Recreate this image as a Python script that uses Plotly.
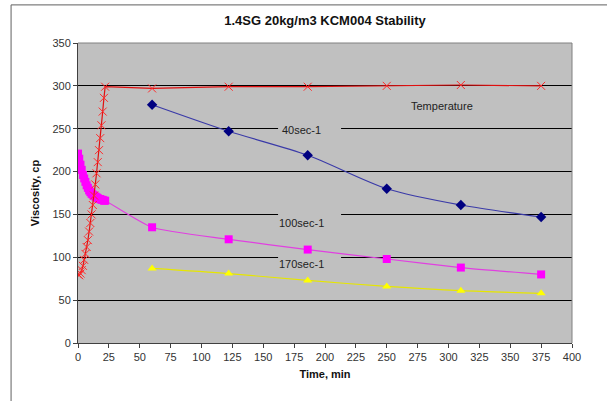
import plotly.graph_objects as go

# ---- data ----
t_early = [0, 1, 2, 3, 4, 5, 6, 7, 8, 9, 10, 11, 12, 13, 14, 15, 16, 17, 18, 19, 20, 21, 22]
temp_early = [80, 79, 81, 85, 90, 97, 104, 112, 120, 130, 140, 150, 161, 172, 185, 198, 211, 225, 239, 254, 270, 286, 299]
visc100_early = [221, 215, 208, 202, 196, 192, 188, 184, 181, 178, 176, 174, 173, 172, 171, 170, 169, 168, 168, 167, 167, 166, 166]

t_late = [60, 122, 186, 250, 310, 375]
visc40 = [278, 247, 219, 180, 161, 147]
visc100_late = [135, 121, 109, 98, 88, 80]
visc170 = [87, 81, 73, 66, 61, 58]
temp_late = [297, 299, 299, 300, 301, 300]

x_ticks = list(range(0, 401, 25))
y_ticks = list(range(0, 351, 50))

FONT = "Liberation Sans, Arial, sans-serif"
BG = "#C0C0C0"

fig = go.Figure()

fig.add_trace(go.Scatter(
    x=t_late, y=visc40, mode="lines+markers", name="40sec-1",
    line=dict(color="#3a3aa8", width=1.2, shape="spline", smoothing=0.8),
    marker=dict(symbol="diamond", size=8, color="#000080")))

fig.add_trace(go.Scatter(
    x=t_early + t_late, y=visc100_early + visc100_late, mode="lines+markers", name="100sec-1",
    line=dict(color="#e040e0", width=1.2, shape="spline", smoothing=0.6),
    marker=dict(symbol="square", size=8, color="#FF00FF")))

fig.add_trace(go.Scatter(
    x=t_late, y=visc170, mode="lines+markers", name="170sec-1",
    line=dict(color="#e6e600", width=1.2, shape="spline", smoothing=0.8),
    marker=dict(symbol="triangle-up", size=8, color="#FFFF00")))

fig.add_trace(go.Scatter(
    x=t_early + t_late, y=temp_early + temp_late, mode="lines+markers", name="Temperature",
    line=dict(color="#e01010", width=1.2),
    marker=dict(symbol="x-thin", size=8, color="#ff2a2a",
                line=dict(color="#ff2a2a", width=1))))

# label gaps over gridlines (Excel text boxes)
shapes = []
for yv in [250, 150, 100]:
    shapes.append(dict(type="rect", xref="x", yref="y", x0=162, x1=213,
                       y0=yv - 3, y1=yv + 3, fillcolor=BG, line=dict(width=0),
                       layer="between"))
# chart border (top and left)
shapes.append(dict(type="line", xref="paper", yref="paper",
                   x0=-0.1355, x1=1.1, y0=1.127, y1=1.127,
                   line=dict(color="#606060", width=1)))
shapes.append(dict(type="line", xref="paper", yref="paper",
                   x0=-0.1355, x1=-0.1355, y0=1.127, y1=-0.25,
                   line=dict(color="#606060", width=1)))
# gray top/right frame of plot area
shapes.append(dict(type="line", xref="paper", yref="paper", x0=0, x1=1, y0=1, y1=1,
                   line=dict(color="#808080", width=1)))
shapes.append(dict(type="line", xref="paper", yref="paper", x0=1, x1=1, y0=0, y1=1,
                   line=dict(color="#808080", width=1)))

annotations = [
    dict(x=181, y=248, text="40sec-1", showarrow=False, xref="x", yref="y",
         font=dict(family=FONT, size=11, color="#222")),
    dict(x=181, y=140, text="100sec-1", showarrow=False, xref="x", yref="y",
         font=dict(family=FONT, size=11, color="#222")),
    dict(x=181, y=92, text="170sec-1", showarrow=False, xref="x", yref="y",
         font=dict(family=FONT, size=11, color="#222")),
    dict(x=295, y=277, text="Temperature", showarrow=False, xref="x", yref="y",
         font=dict(family=FONT, size=11, color="#222")),
]

fig.update_layout(
    width=607, height=401,
    margin=dict(l=78, r=35, t=43, b=58),
    paper_bgcolor="white", plot_bgcolor=BG,
    showlegend=False,
    title=dict(text="<b>1.4SG 20kg/m3 KCM004 Stability</b>", x=(78 + 572) / 2 / 607,
               xanchor="center", y=1 - 20 / 401, yanchor="middle",
               font=dict(family=FONT, size=13, color="#111")),
    shapes=shapes, annotations=annotations,
)

fig.update_xaxes(
    range=[0, 400], tickvals=x_ticks, ticktext=[str(v) for v in x_ticks],
    showgrid=False, zeroline=False,
    showline=True, linecolor="#404040", linewidth=1, mirror=False,
    ticks="outside", ticklen=4, tickcolor="#404040",
    tickfont=dict(family=FONT, size=11, color="#333"),
    title=dict(text="<b>Time, min</b>", font=dict(family=FONT, size=11, color="#111"), standoff=8),
)
fig.update_yaxes(
    range=[0, 350], tickvals=y_ticks, ticktext=[str(v) for v in y_ticks],
    showgrid=True, gridcolor="#000000", gridwidth=1, zeroline=False,
    showline=True, linecolor="#404040", linewidth=1,
    ticks="outside", ticklen=4, tickcolor="#404040",
    tickfont=dict(family=FONT, size=11, color="#333"),
    title=dict(text="<b>Viscosity, cp</b>", font=dict(family=FONT, size=11, color="#111"), standoff=10),
)

fig.write_html("out.html", config={"displayModeBar": False},
               post_script="document.body.style.margin='0';document.body.style.overflow='hidden';")
